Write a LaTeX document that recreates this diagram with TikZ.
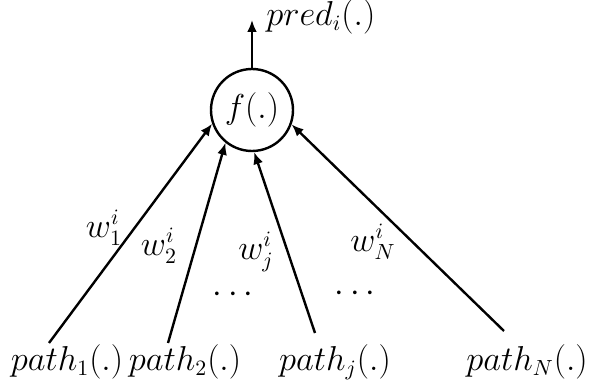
\documentclass[tikz,border=0pt]{standalone}
\usepackage{amsmath, amssymb}
\usepackage{tikz}
\usetikzlibrary{arrows.meta, positioning}

\begin{document}
\begin{tikzpicture}[
  x=0.5pt, y=-0.5pt,
  agg/.style={circle, draw, line width=1.2pt, minimum size=41pt,
              inner sep=0pt, font=\fontsize{16}{19}\selectfont},
  lbl/.style={inner sep=1pt, font=\fontsize{16}{19}\selectfont},
  wlbl/.style={inner sep=0pt, font=\fontsize{16}{19}\selectfont},
  arrow/.style={-{Latex[length=6pt, width=5pt]}, line width=1.2pt}
]
\useasboundingbox (0,0) rectangle (596,385);

% aggregation node
\node[agg] (f) at (252,110) {$f(.)$};
\coordinate (out) at (252,20);
\node[lbl, anchor=west] (pred) at (264,17) {$pred_i(.)$};
\draw[arrow] (f.north) -- (out);

% path nodes
\node[lbl] (p1) at (67,362) {$path_1(.)$};
\node[lbl] (p2) at (185,362) {$path_2(.)$};
\node[lbl] (pj) at (335,362) {$path_j(.)$};
\node[lbl] (pN) at (527,362) {$path_N(.)$};
\coordinate (s1) at (49,343);
\coordinate (s2) at (168,343);
\coordinate (sj) at (315,333);
\coordinate (sN) at (504,331);

% weighted inputs
\draw[arrow] (s1) -- (f.199);
\draw[arrow] (s2) -- (f.231);
\draw[arrow] (sj) -- (f.273);
\draw[arrow] (sN) -- (f.340);
\node[wlbl] (w1) at (104,228) {$w_1^i$};
\node[wlbl] (w2) at (159,246) {$w_2^i$};
\node[wlbl] (wj) at (256,252) {$w_j^i$};
\node[wlbl] (wN) at (373,242) {$w_N^i$};

% dots
\node[lbl] (d1) at (236,295) {$\cdots$};
\node[lbl] (d2) at (358,294) {$\cdots$};

\end{tikzpicture}
\end{document}
